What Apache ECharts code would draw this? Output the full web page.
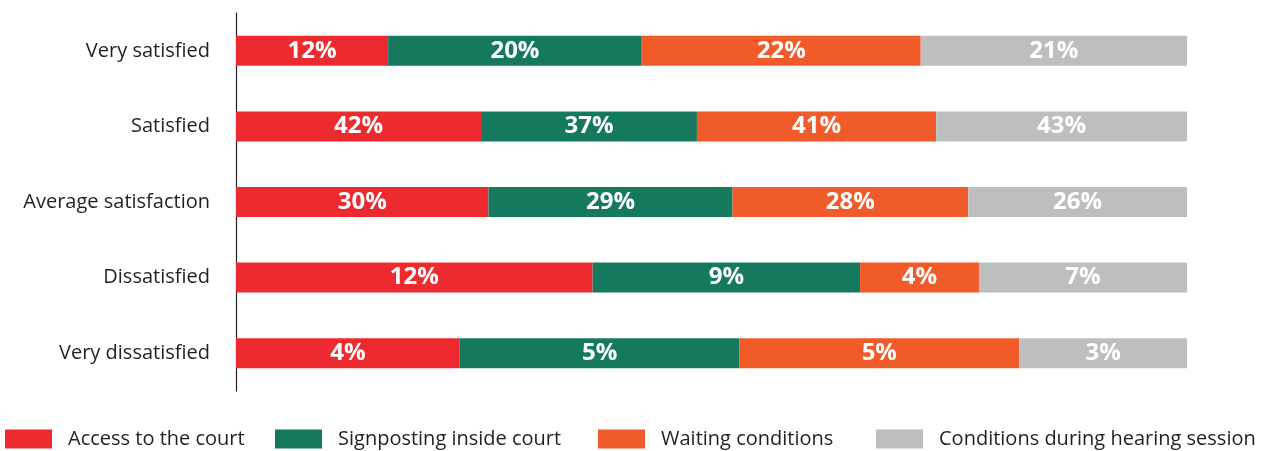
<!DOCTYPE html>
<html>
<head>
<meta charset="utf-8">
<script src="https://cdn.jsdelivr.net/npm/echarts@6/dist/echarts.min.js"></script>
<style>html,body{margin:0;padding:0;background:#fff;}#c{width:1271px;height:451px;}</style>
</head>
<body>
<div id="c"></div>
<script>
const categories = ['Very satisfied', 'Satisfied', 'Average satisfaction', 'Dissatisfied', 'Very dissatisfied'];
const seriesNames = ['Access to the court', 'Signposting inside court', 'Waiting conditions', 'Conditions during hearing session'];
const access = [12, 42, 30, 12, 4];
const signposting = [20, 37, 29, 9, 5];
const waiting = [22, 41, 28, 4, 5];
const hearing = [21, 43, 26, 7, 3];
const colors = ['#ED2A2F', '#157A5D', '#F15A29', '#BCBEC0'];

const all = [access, signposting, waiting, hearing];
const totals = categories.map((_, i) => all.reduce((s, a) => s + a[i], 0));
const FONT = '"Open Sans", "Noto Sans", sans-serif';

const chart = echarts.init(document.getElementById('c'));
const legendLefts = [5, 275, 598, 876];
chart.setOption({
  animation: false,
  textStyle: { fontFamily: FONT },
  grid: { left: 236, right: 84, top: 13, height: 378 },
  xAxis: { type: 'value', min: 0, max: 1, show: false },
  yAxis: {
    type: 'category', data: categories, inverse: true, offset: 2,
    axisLine: { lineStyle: { color: '#231f20', width: 1.2 } },
    axisTick: { show: false },
    axisLabel: { color: '#231f20', fontSize: 20, margin: 24, fontFamily: FONT }
  },
  legend: seriesNames.map((n, i) => ({
    data: [n], left: legendLefts[i], top: 429, itemWidth: 47, itemHeight: 19,
    itemGap: 0, icon: 'rect', padding: 0,
    textStyle: { color: '#231f20', fontSize: 20, fontFamily: FONT, padding: [0, 0, 0, 11] }
  })),
  series: all.map((arr, si) => ({
    name: seriesNames[si], type: 'bar', stack: 'total', barWidth: 30,
    itemStyle: { color: colors[si] },
    data: arr.map((v, i) => v / totals[i]),
    label: {
      show: true, position: 'inside', color: '#fff', fontWeight: 'bold',
      fontSize: 24, fontFamily: FONT,
      formatter: p => arr[p.dataIndex] + '%'
    }
  }))
});
</script>
</body>
</html>
